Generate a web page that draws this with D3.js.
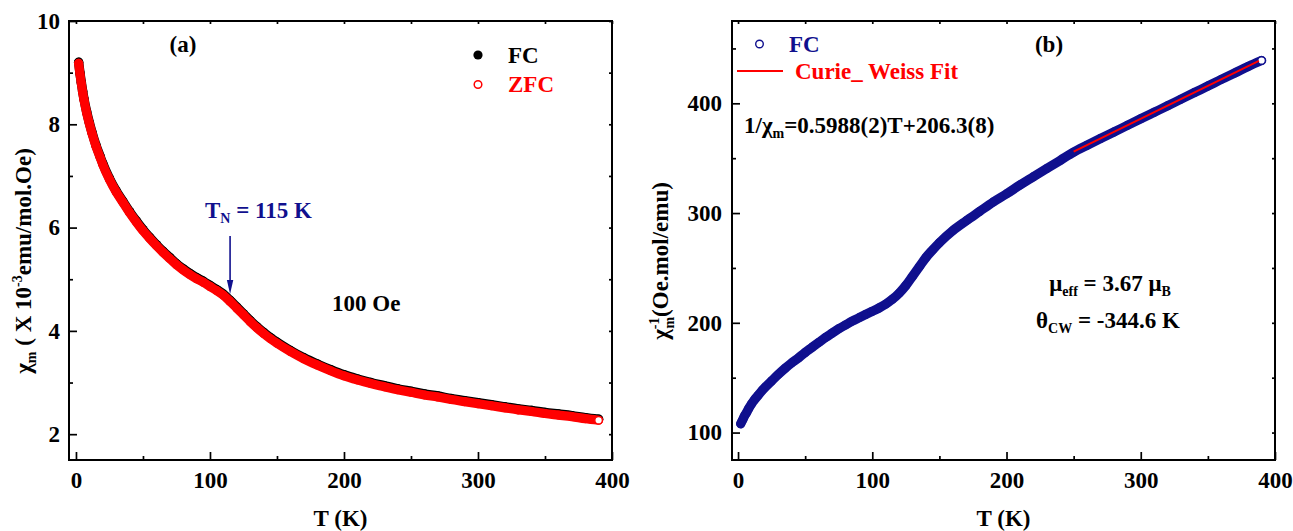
<!DOCTYPE html>
<html>
<head>
<meta charset="utf-8">
<script src="https://cdn.jsdelivr.net/npm/d3@7"></script>
<style>
  html, body { margin: 0; padding: 0; background: #fff; }
  svg text { font-family: "Liberation Serif", "Times New Roman", serif; font-weight: bold; }
</style>
</head>
<body>
<svg id="chart" width="1293" height="531"></svg>
<script>
// ---- measured data ----
// temperature grid (K) shared by the measurements
const temps = [2,3,4,5,6,8,10,12,15,18,20,25,30,35,40,45,50,55,60,65,70,75,80,85,90,95,100,105,110,115,
  120,125,130,135,140,145,150,160,170,180,190,200,210,220,230,240,250,260,270,280,290,300,310,320,330,340,350,360,370,380,390];

// molar susceptibility, x 10^-3 emu/mol.Oe, field-cooled
const chiFC = [9.20,8.99,8.81,8.64,8.49,8.24,8.03,7.84,7.59,7.38,7.24,6.95,6.71,6.51,6.31,6.13,5.96,5.81,5.67,5.54,
  5.42,5.30,5.20,5.11,5.03,4.96,4.88,4.80,4.71,4.59,4.46,4.33,4.20,4.08,3.97,3.87,3.78,3.62,3.48,3.36,
  3.25,3.15,3.07,3.00,2.94,2.88,2.83,2.78,2.74,2.69,2.65,2.61,2.57,2.53,2.49,2.46,2.42,2.39,2.36,2.32,2.29];

// molar susceptibility, x 10^-3 emu/mol.Oe, zero-field-cooled
const chiZFC = [9.18,8.97,8.79,8.62,8.47,8.22,8.01,7.82,7.57,7.36,7.22,6.93,6.69,6.49,6.29,6.11,5.94,5.79,5.65,5.52,
  5.40,5.28,5.18,5.09,5.01,4.94,4.86,4.78,4.69,4.57,4.44,4.31,4.18,4.06,3.95,3.85,3.76,3.60,3.46,3.34,
  3.23,3.13,3.05,2.98,2.92,2.86,2.81,2.76,2.72,2.67,2.63,2.59,2.55,2.51,2.47,2.44,2.40,2.37,2.34,2.30,2.27];

// inverse susceptibility, Oe.mol/emu (FC)
const invChiFC = [108,110.5,113,115.5,117.5,122,126,129.5,134,138.5,141,147,153,158.5,163.5,168,173,177.5,182,186.5,
  190.5,194.5,198,201.5,204.5,207.5,210.5,213.5,217,221.5,227,234,242.5,251,259.5,266.5,273,284,293,301.5,
  310,317.5,325.5,333,340.5,348,355.5,361.8,367.9,373.8,379.9,385.9,391.8,397.7,403.8,409.8,415.7,421.8,427.6,433.6,439.0];

// Curie-Weiss fit 1/chi = a*T + b over the paramagnetic range
const fitSlope = 0.5988;
const fitIntercept = 206.3;
const fitRange = [250, 388];

// Neel temperature marker
const neelT = 115;

// axis ticks
const xMajor = [0, 100, 200, 300, 400];
const xMinor = [50, 150, 250, 350];
const chiMajor = [2, 4, 6, 8, 10];
const chiMinor = [3, 5, 7, 9];
const invMajor = [100, 200, 300, 400];
const invMinor = [150, 250, 350, 450];

// ---- drawing ----
const svg = d3.select("#chart");
const FS = 23;
const NAVY = "#10108e";
const RED = "#ff0000";

function drawFrame(x, y, x0, x1, y0, y1, yMajor, yMinor, yPad) {
  const g = svg.append("g");
  const styleAxis = sel => {
    sel.select(".domain").remove();
    sel.selectAll(".tick line").attr("stroke", "#000").attr("stroke-width", 1.7);
    sel.selectAll(".tick text").attr("fill", "#000").style("font-size", FS + "px")
      .style("font-family", "'Liberation Serif', serif").style("font-weight", "bold");
  };
  // bottom
  g.append("g").attr("transform", `translate(0,${y1})`)
    .call(d3.axisBottom(x).tickValues(xMajor).tickSize(-8).tickPadding(12).tickFormat(d3.format("d"))).call(styleAxis);
  g.append("g").attr("transform", `translate(0,${y1})`)
    .call(d3.axisBottom(x).tickValues(xMinor).tickSize(-4).tickFormat("")).call(styleAxis);
  // top
  g.append("g").attr("transform", `translate(0,${y0})`)
    .call(d3.axisTop(x).tickValues(xMajor.concat(xMinor)).tickSize(-3).tickFormat("")).call(styleAxis);
  // left
  g.append("g").attr("transform", `translate(${x0},0)`)
    .call(d3.axisLeft(y).tickValues(yMajor).tickSize(-8).tickPadding(yPad).tickFormat(d3.format("d"))).call(styleAxis);
  g.append("g").attr("transform", `translate(${x0},0)`)
    .call(d3.axisLeft(y).tickValues(yMinor).tickSize(-4).tickFormat("")).call(styleAxis);
  // right
  g.append("g").attr("transform", `translate(${x1},0)`)
    .call(d3.axisRight(y).tickValues(yMajor.concat(yMinor)).tickSize(-3).tickFormat("")).call(styleAxis);
  // frame
  g.append("rect").attr("x", x0).attr("y", y0).attr("width", x1 - x0).attr("height", y1 - y0)
    .attr("fill", "none").attr("stroke", "#000").attr("stroke-width", 2);
}

// rich text helper: parts = [{t, dy, dx, size}]
function richText(parent, x, y, parts, opts = {}) {
  const t = parent.append("text").attr("x", x).attr("y", y)
    .attr("text-anchor", opts.anchor || "start")
    .attr("fill", opts.fill || "#000")
    .style("font-size", FS + "px");
  if (opts.transform) t.attr("transform", opts.transform).attr("x", 0).attr("y", 0);
  parts.forEach(p => {
    const s = t.append("tspan").text(p.t);
    if (p.dy) s.attr("dy", p.dy);
    if (p.dx) s.attr("dx", p.dx);
    if (p.size) s.style("font-size", p.size + "px");
  });
  return t;
}

function bandSeries(x, y, ts, vs, color, width, marker) {
  const data = ts.map((t, i) => ({ t, v: vs[i] }));
  const g = svg.append("g");
  const line = d3.line().x(d => x(d.t)).y(d => y(d.v)).curve(d3.curveMonotoneX);
  g.append("path").datum(data).attr("d", line)
    .attr("fill", "none").attr("stroke", color).attr("stroke-width", width)
    .attr("stroke-linecap", "round").attr("stroke-linejoin", "round");
  g.selectAll("circle").data(data).join("circle")
    .attr("cx", d => x(d.t)).attr("cy", d => y(d.v))
    .attr("r", marker.r)
    .attr("fill", (d, i) => marker.filled ? color : (i === data.length - 1 ? "#fff" : "none"))
    .attr("stroke", color).attr("stroke-width", marker.filled ? 0 : 1.4);
}

// ---------- panel (a) ----------
{
  const x0 = 69, x1 = 612, y0 = 21, y1 = 460;
  const x = d3.scaleLinear().domain([-5.2, 400]).range([x0, x1]);
  const y = d3.scaleLinear().domain([1.5, 10]).range([y1, y0]);

  bandSeries(x, y, temps, chiFC, "#000", 9.4, { r: 4.7, filled: true });
  bandSeries(x, y, temps, chiZFC, RED, 9.2, { r: 3.8, filled: false });

  drawFrame(x, y, x0, x1, y0, y1, chiMajor, chiMinor, 9);

  // legend
  svg.append("circle").attr("cx", 478).attr("cy", 55).attr("r", 4.6).attr("fill", "#000");
  richText(svg, 508, 63, [{ t: "FC" }]);
  svg.append("circle").attr("cx", 478).attr("cy", 84.5).attr("r", 3.8).attr("fill", "none")
    .attr("stroke", RED).attr("stroke-width", 1.5);
  richText(svg, 508, 92, [{ t: "ZFC" }], { fill: RED });

  richText(svg, 183, 52, [{ t: "(a)" }], { anchor: "middle" });
  richText(svg, 332, 311, [{ t: "100 Oe" }]);

  // Neel temperature annotation
  richText(svg, 205, 218, [{ t: "T" }, { t: "N", dy: 5, size: 14 }, { t: " = 115 K", dy: -5 }], { fill: NAVY });
  const ax = x(neelT);
  svg.append("line").attr("x1", ax).attr("x2", ax).attr("y1", 236).attr("y2", 284)
    .attr("stroke", NAVY).attr("stroke-width", 1.6);
  svg.append("path").attr("d", `M${ax - 3.2},280 L${ax + 3.2},280 L${ax},294 Z`).attr("fill", NAVY);

  // axis titles
  richText(svg, (x0 + x1) / 2, 526, [{ t: "T (K)" }], { anchor: "middle" });
  richText(svg, 0, 0, [
    { t: "χ" }, { t: "m", dy: 5, size: 14 }, { t: " ( X 10", dy: -5 }, { t: "-3", dy: -9, size: 14 },
    { t: "emu/mol.Oe)", dy: 9 }
  ], { anchor: "middle", transform: "translate(31,261) rotate(-90)" });
}

// ---------- panel (b) ----------
{
  const x0 = 732, x1 = 1275, y0 = 21, y1 = 460;
  const x = d3.scaleLinear().domain([-4.5, 400]).range([x0, x1]);
  const y = d3.scaleLinear().domain([75, 475]).range([y1, y0]);

  bandSeries(x, y, temps, invChiFC, NAVY, 9.4, { r: 3.8, filled: false });

  // Curie-Weiss line from the quoted fit parameters
  const fitData = fitRange.map(t => ({ t, v: fitSlope * t + fitIntercept }));
  svg.append("path").datum(fitData)
    .attr("d", d3.line().x(d => x(d.t)).y(d => y(d.v)))
    .attr("stroke", RED).attr("stroke-width", 2).attr("fill", "none");

  drawFrame(x, y, x0, x1, y0, y1, invMajor, invMinor, 10);

  // legend
  svg.append("circle").attr("cx", 759.5).attr("cy", 44).attr("r", 3.8).attr("fill", "none")
    .attr("stroke", NAVY).attr("stroke-width", 1.4);
  richText(svg, 789, 52, [{ t: "FC" }], { fill: NAVY });
  svg.append("line").attr("x1", 737).attr("x2", 783).attr("y1", 71).attr("y2", 71)
    .attr("stroke", RED).attr("stroke-width", 2);
  richText(svg, 795, 79, [{ t: "Curie_ Weiss Fit" }], { fill: RED });

  richText(svg, 1049, 52, [{ t: "(b)" }], { anchor: "middle" });

  richText(svg, 744, 133, [
    { t: "1/χ" }, { t: "m", dy: 5, size: 14 }, { t: "=0.5988(2)T+206.3(8)", dy: -5 }
  ]);
  richText(svg, 1110, 291, [
    { t: "μ" }, { t: "eff", dy: 5, size: 14 }, { t: " = 3.67 μ", dy: -5 }, { t: "B", dy: 5, size: 14 }
  ], { anchor: "middle" });
  richText(svg, 1108, 328, [
    { t: "θ" }, { t: "CW", dy: 5, size: 14 }, { t: " = -344.6 K", dy: -5 }
  ], { anchor: "middle" });

  // axis titles
  richText(svg, (x0 + x1) / 2, 526, [{ t: "T (K)" }], { anchor: "middle" });
  richText(svg, 0, 0, [
    { t: "χ" }, { t: "-1", dy: -9, size: 14 }, { t: "m", dx: -11, dy: 15, size: 14 },
    { t: "(Oe.mol/emu)", dy: -6 }
  ], { anchor: "middle", transform: "translate(668,261) rotate(-90)" });
}
</script>
</body>
</html>
